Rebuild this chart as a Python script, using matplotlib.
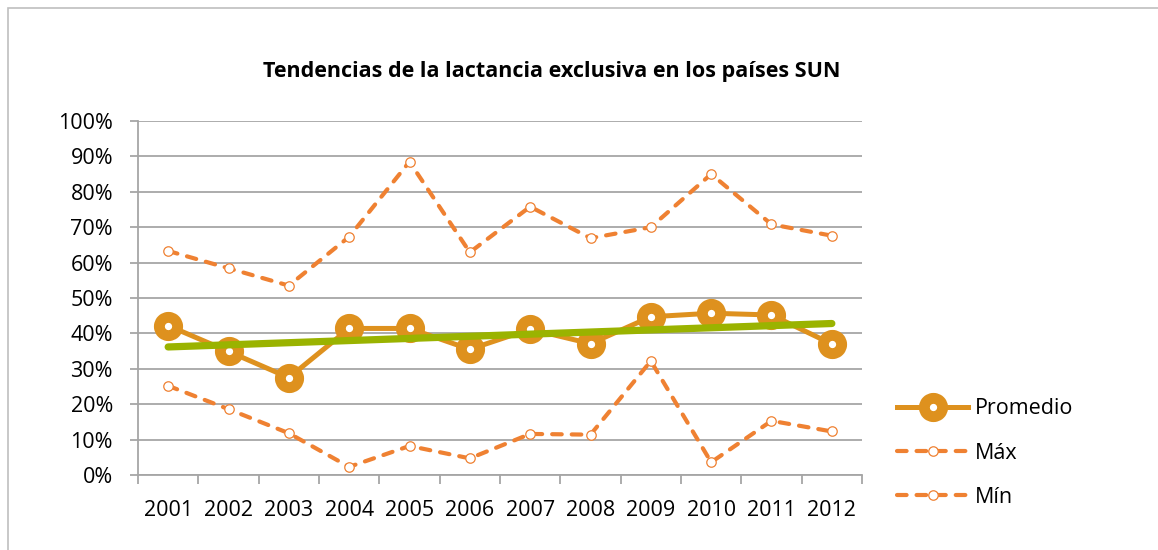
"""Tendencias de la lactancia exclusiva en los países SUN."""

import matplotlib

matplotlib.use("Agg")
import matplotlib.pyplot as plt
import numpy as np
from matplotlib.patches import Rectangle
from matplotlib.ticker import FixedLocator, PercentFormatter

# Data (percent)
years = ["2001", "2002", "2003", "2004", "2005", "2006",
         "2007", "2008", "2009", "2010", "2011", "2012"]
promedio = [42.2, 34.9, 27.5, 41.4, 41.4, 35.5, 41.2, 37.1, 44.7, 45.7, 45.2, 37.0]
maximo = [63.3, 58.4, 53.5, 67.3, 88.5, 62.9, 75.8, 66.9, 70.0, 85.0, 70.8, 67.6]
minimo = [25.2, 18.6, 11.8, 2.3, 8.2, 4.7, 11.6, 11.4, 32.2, 3.6, 15.3, 12.3]

title = "Tendencias de la lactancia exclusiva en los países SUN"

ORANGE_AVG = "#DE911E"
ORANGE = "#EF8132"
GREEN = "#9AB300"
GRID = "#A6A6A6"
FS = 15.5

plt.rcParams["font.family"] = ["Open Sans", "DejaVu Sans"]

fig = plt.figure(figsize=(11.58, 5.5), dpi=100)
ax = fig.add_axes([138 / 1158, 1 - 475 / 550, (862 - 138) / 1158, (475 - 121) / 550])

x = np.arange(len(years))

# chart frame (partially cropped in the original screenshot)
fig.patches.append(Rectangle((8 / 1158, -0.05), 1.1, 1 - 8 / 550 + 0.05,
                             transform=fig.transFigure, fill=False,
                             edgecolor="#BFBFBF", linewidth=1.2))

# linear trend of the average
coef = np.polyfit(x, promedio, 1)
ax.plot(x, np.polyval(coef, x), color=GREEN, linewidth=5.2,
        solid_capstyle="round", zorder=4)

ax.plot(x, promedio, color=ORANGE_AVG, linewidth=3.6, marker="o",
        markersize=13.2, markeredgewidth=7.8, markerfacecolor="white",
        markeredgecolor=ORANGE_AVG, label="Promedio", zorder=3)

for values, label in [(maximo, "Máx"), (minimo, "Mín")]:
    line, = ax.plot(x, values, color=ORANGE, linewidth=3.0, marker="o",
                    markersize=6.8, markeredgewidth=0.9, markerfacecolor="white",
                    markeredgecolor=ORANGE, label=label, zorder=3,
                    dash_capstyle="round")
    line.set_dashes([2.3, 2.4])

ax.set_xlim(-0.5, len(years) - 0.5)
ax.set_ylim(0, 100)
ax.set_yticks(np.arange(0, 101, 10))
ax.yaxis.set_major_formatter(PercentFormatter(decimals=0))
ax.set_xticks(x, labels=years)
ax.xaxis.set_minor_locator(FixedLocator(np.arange(-0.5, len(years), 1)))

ax.grid(axis="y", color=GRID, linewidth=1.3)
ax.set_axisbelow(True)
for side in ["top", "right"]:
    ax.spines[side].set_visible(False)
for side in ["left", "bottom"]:
    ax.spines[side].set_color(GRID)
    ax.spines[side].set_linewidth(1.3)

ax.tick_params(axis="x", which="major", length=0, pad=18, labelsize=FS)
ax.tick_params(axis="x", which="minor", length=6.5, color=GRID, width=1.3)
ax.tick_params(axis="y", length=6, color=GRID, width=1.3, pad=12, labelsize=FS)

fig.text(552 / 1158, 1 - 71 / 550, title, ha="center", va="center",
         fontsize=15.5, fontweight="bold")

ax.legend(loc="center left", bbox_to_anchor=(1.022, 0.062), frameon=False,
          fontsize=FS, handlelength=3.3, labelspacing=1.08, handletextpad=0.3)

fig.savefig("out.png", dpi=100)
